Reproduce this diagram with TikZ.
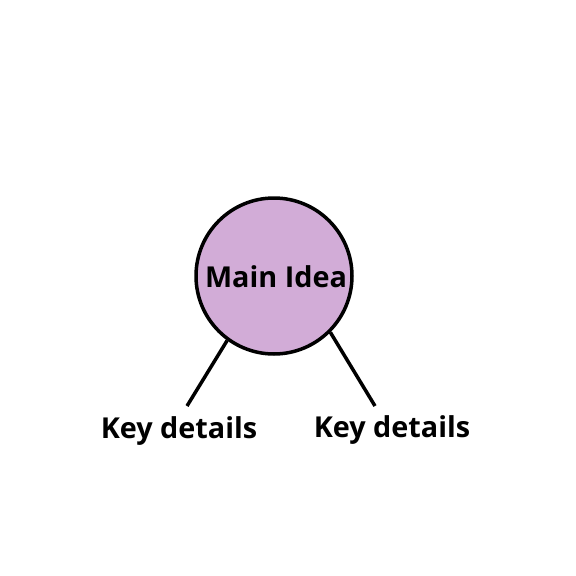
\documentclass[tikz,border=0pt]{standalone}
\usepackage{fontspec}
\setmainfont{Open Sans}
\usepackage{tikz}

\definecolor{ideapurple}{RGB}{210,172,215}

\begin{document}
\begin{tikzpicture}[x=1pt, y=-1pt]
\tikzstyle{idea} = [circle, draw, line width=3.5pt, fill=ideapurple, minimum size=156pt, inner sep=0pt]
\tikzstyle{detail} = [font=\fontsize{28.8}{34}\selectfont\bfseries, inner sep=0pt, anchor=base]
\tikzstyle{branch} = [line width=3.5pt]

\useasboundingbox (0,0) rectangle (576,576);

\node[idea] (main) at (274,276) {};
\node[detail] (title) at (276,287) {Main Idea};
\node[detail] (left) at (179,438) {Key details};
\node[detail] (right) at (392,437) {Key details};

\coordinate (leftend) at (187,406);
\coordinate (rightend) at (375,406);

\draw[branch] (main.234) -- (leftend);
\draw[branch] (main.-45) -- (rightend);
\end{tikzpicture}
\end{document}
